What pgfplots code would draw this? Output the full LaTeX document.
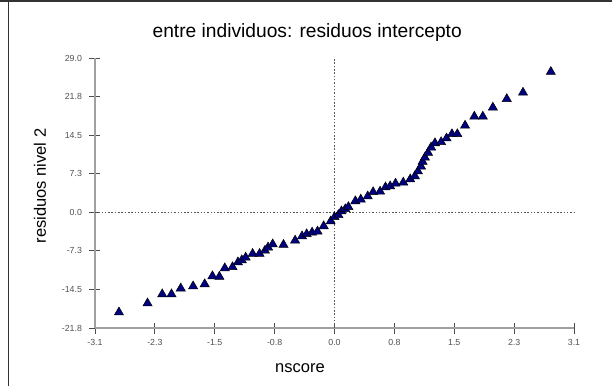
\documentclass[border=0pt]{standalone}
\usepackage{pgfplots}
\pgfplotsset{compat=1.18}
\usepackage{fontspec}
\setmainfont{Liberation Sans}
\definecolor{navyb}{HTML}{000080}
\definecolor{axgray}{HTML}{A0A0A0}
\definecolor{lblgray}{HTML}{505050}
\pgfplotstableread{
x y
-2.79 -18.8
-2.42 -17.1
-2.23 -15.4
-2.11 -15.4
-1.99 -14.3
-1.83 -13.9
-1.68 -13.5
-1.58 -12.0
-1.49 -12.1
-1.42 -10.5
-1.32 -10.3
-1.25 -9.4
-1.20 -9.0
-1.15 -8.5
-1.06 -7.8
-0.97 -7.8
-0.90 -7.2
-0.86 -6.6
-0.80 -6.0
-0.66 -6.1
-0.51 -5.3
-0.42 -4.5
-0.36 -4.1
-0.29 -3.8
-0.22 -3.6
-0.14 -2.6
-0.05 -1.7
0.00 -0.9
0.05 -0.5
0.09 0.2
0.14 0.6
0.18 1.0
0.27 2.1
0.34 2.4
0.43 3.0
0.50 3.8
0.59 3.9
0.66 4.7
0.72 4.9
0.79 5.4
0.89 5.6
0.98 6.2
1.04 6.8
1.08 7.7
1.12 8.6
1.14 9.5
1.17 10.3
1.21 11.2
1.25 12.2
1.30 13.0
1.38 13.2
1.45 13.9
1.52 14.7
1.59 14.7
1.69 16.3
1.81 18.0
1.92 18.0
2.05 19.7
2.23 21.3
2.44 22.5
2.80 26.4
}\pts
\begin{document}
\begin{tikzpicture}
\begin{axis}[
  scale only axis, width=479pt, height=270pt,
  xmin=-3.1, xmax=3.1, ymin=-21.75, ymax=29,
  axis x line*=bottom, axis y line*=left,
  axis line style={-, axgray, line width=1.5pt},
  xtick={-3.1,-2.325,-1.55,-0.775,0,0.775,1.55,2.325,3.1},
  xticklabels={-3.1,-2.3,-1.5,-0.8,0.0,0.8,1.5,2.3,3.1},
  ytick={-21.75,-14.5,-7.25,0,7.25,14.5,21.75,29},
  yticklabels={-21.8,-14.5,-7.3,0.0,7.3,14.5,21.8,29.0},
  tick align=center, major tick length=11pt,
  tick style={black!70, line width=0.8pt},
  ticklabel style={font=\fontsize{8.8}{10}\selectfont, text=lblgray},
  xticklabel style={yshift=-2pt},
  yticklabel style={xshift=-4pt},
  /pgf/number format/assume math mode=true,
  title={entre individuos: residuos intercepto},
  title style={font=\fontsize{19.2}{21}\selectfont, at={(axis description cs:0.443,1)}, anchor=center, yshift=19pt},
  xlabel={nscore}, ylabel={residuos nivel 2},
  label style={font=\fontsize{16.5}{18}\selectfont},
  xlabel style={at={(axis description cs:0.428,-0.148)}, anchor=center},
  ylabel style={at={(axis description cs:-0.115,0.526)}, anchor=center},
  clip=false,
]
\coordinate (ll) at (rel axis cs:0,0);
\draw[dash pattern=on 1.5pt off 1.8pt, black!65, line width=1.2pt] (axis cs:0,-21.75) -- (axis cs:0,29);
\draw[dash pattern=on 1.5pt off 1.8pt, black!65, line width=1.2pt] (axis cs:-3.1,0) -- (axis cs:3.1,0);
\addplot[only marks, mark=triangle*, mark size=5.3pt,
  mark options={fill=navyb, draw=black, line width=0.5pt}] table[x=x,y=y]{\pts};
\end{axis}
\pgfresetboundingbox
\path[use as bounding box] ([shift={(-95pt,-58pt)}]ll) rectangle ([shift={(517pt,328pt)}]ll);
\draw[line width=1.5pt, black!80] ([shift={(-95pt,327pt)}]ll) -- ([shift={(517pt,327pt)}]ll);
\draw[line width=1pt, black!80] ([shift={(-86pt,-58pt)}]ll) -- ([shift={(-86pt,328pt)}]ll);
\end{tikzpicture}
\end{document}
